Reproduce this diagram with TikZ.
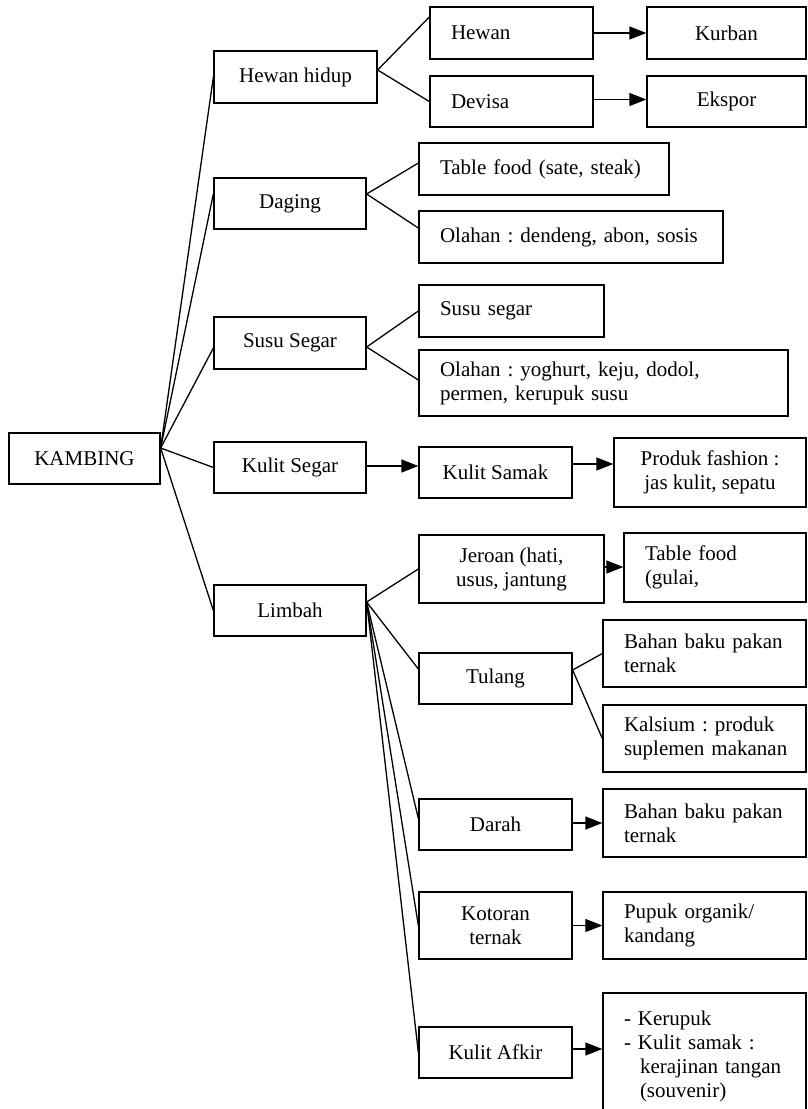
\documentclass[tikz,border=0pt]{standalone}
\usepackage{fontspec}
\setmainfont{Liberation Serif}
\usetikzlibrary{arrows.meta}
\frenchspacing
\begin{document}
\begin{tikzpicture}[x=1pt,y=-1pt,
  bx/.style={draw, line width=1.3pt, rectangle, inner ysep=2pt, font=\fontsize{21}{24}\selectfont},
  cbx/.style={bx, align=center, inner xsep=4pt},
  lbx/.style={bx, align=left, inner xsep=21pt},
  ln/.style={line width=1.3pt},
  ar/.style={line width=1.3pt, -{Triangle[length=17pt,width=13pt]}}]
\useasboundingbox (0,0) rectangle (807,1109);
% level 0
\node[cbx, minimum width=151pt, minimum height=51pt] (kambing) at (84.5,458.5) {KAMBING};
% level 1
\node[cbx, minimum width=163pt, minimum height=52pt] (hh) at (295.5,77) {Hewan hidup};
\node[cbx, minimum width=152pt, minimum height=51pt] (daging) at (290,203.5) {Daging};
\node[cbx, minimum width=152pt, minimum height=52pt] (susu) at (290,343) {Susu Segar};
\node[cbx, minimum width=152pt, minimum height=51pt] (kulits) at (290,467.5) {Kulit Segar};
\node[cbx, minimum width=152pt, minimum height=51pt] (limbah) at (290,610.5) {Limbah};
% hewan hidup
\node[lbx, text width=121pt, minimum height=52pt] (hewan) at (511.5,33) {Hewan};
\node[lbx, text width=121pt, minimum height=51pt] (devisa) at (511.5,101.5) {Devisa};
\node[cbx, minimum width=159pt, minimum height=52pt] (kurban) at (726.5,33) {Kurban};
\node[cbx, minimum width=159pt, minimum height=51pt] (ekspor) at (726.5,101.5) {Ekspor};
% daging
\node[lbx, text width=208pt, minimum height=52pt] (tf1) at (544,169) {Table food (sate, steak)};
\node[lbx, text width=262pt, minimum height=52pt] (ol1) at (571,237) {Olahan : dendeng, abon, sosis};
% susu
\node[lbx, text width=143pt, minimum height=52pt] (ss) at (511.5,311) {Susu segar};
\node[lbx, text width=327pt, minimum height=66pt] (ol2) at (603.5,383) {\mbox{Olahan : yoghurt, keju, dodol,}\\\mbox{permen, kerupuk susu}};
% kulit
\node[cbx, minimum width=153pt, minimum height=51pt] (samak) at (495.5,472.5) {Kulit Samak};
\node[cbx, minimum width=192pt, minimum height=69pt] (fashion) at (710,472.5) {Produk fashion :\\jas kulit, sepatu};
% limbah
\node[cbx, minimum width=185pt, minimum height=68pt] (jeroan) at (511.5,569) {Jeroan (hati,\\usus, jantung};
\node[lbx, text width=140pt, minimum height=69pt] (tf2) at (715,567.5) {\mbox{Table food}\\\mbox{(gulai,}};
\node[cbx, minimum width=153pt, minimum height=51pt] (tulang) at (495.5,678.5) {Tulang};
\node[lbx, text width=161pt, minimum height=67pt] (bb1) at (704.5,653.5) {\mbox{Bahan baku pakan}\\\mbox{ternak}};
\node[lbx, text width=161pt, minimum height=67pt] (kals) at (704.5,738.5) {\mbox{Kalsium : produk}\\\mbox{suplemen makanan}};
\node[cbx, minimum width=153pt, minimum height=51pt] (darah) at (495.5,824.5) {Darah};
\node[lbx, text width=161pt, minimum height=68pt] (bb2) at (704.5,823) {\mbox{Bahan baku pakan}\\\mbox{ternak}};
\node[cbx, minimum width=153pt, minimum height=67pt] (kotoran) at (495.5,925.5) {Kotoran\\ternak};
\node[lbx, text width=161pt, minimum height=67pt] (pupuk) at (704.5,925.5) {\mbox{Pupuk organik/}\\\mbox{kandang}};
\node[cbx, minimum width=153pt, minimum height=51pt] (afkir) at (495.5,1052.5) {Kulit Afkir};
\node[lbx, text width=161pt, minimum height=127pt] (big) at (704.5,1056.5) {\mbox{- Kerupuk}\\\mbox{- Kulit samak :}\\\mbox{\hspace*{16pt}kerajinan tangan}\\\mbox{\hspace*{16pt}(souvenir)}};
% fan origins
\coordinate (ko) at ([yshift=10.5pt]kambing.east);
\coordinate (hho) at ([yshift=7pt]hh.east);
\coordinate (dgo) at ([yshift=9.5pt]daging.east);
\coordinate (suo) at ([yshift=-4pt]susu.east);
\coordinate (lbo) at ([yshift=8.5pt]limbah.east);
\coordinate (tlo) at ([yshift=8.5pt]tulang.east);
% connectors
\draw[ln] (ko) -- (hh.west);
\draw[ln] (ko) -- ([yshift=9.5pt]daging.west);
\draw[ln] (ko) -- ([yshift=-5pt]susu.west);
\draw[ln] (ko) -- (kulits.west);
\draw[ln] (ko) -- (limbah.west);
\draw[ln] (hho) -- ([yshift=16pt]hewan.west);
\draw[ln] (hho) -- (devisa.west);
\draw[ar] (hewan.east) -- (kurban.west);
\draw[ar] ([yshift=2pt]devisa.east) -- ([yshift=2pt]ekspor.west);
\draw[ln] (dgo) -- ([yshift=6pt]tf1.west);
\draw[ln] (dgo) -- ([yshift=9pt]ol1.west);
\draw[ln] (suo) -- (ss.west);
\draw[ln] (suo) -- ([yshift=3pt]ol2.west);
\draw[ar] ([yshift=1.5pt]kulits.east) -- ([yshift=1.5pt]kulits.east -| samak.west);
\draw[ar] ([yshift=8.5pt]samak.east) -- ([yshift=8.5pt]samak.east -| fashion.west);
\draw[ln] (lbo) -- (jeroan.west);
\draw[ln] (lbo) -- ([yshift=9.5pt]tulang.west);
\draw[ln] (lbo) -- ([yshift=6pt]darah.west);
\draw[ln] (lbo) -- (kotoran.west);
\draw[ln] (lbo) -- (afkir.west);
\draw[ar] ([yshift=2pt]jeroan.east) -- ([yshift=2pt]jeroan.east -| tf2.west);
\draw[ln] (tlo) -- (bb1.west);
\draw[ln] (tlo) -- (kals.west);
\draw[ar] ([yshift=1.5pt]darah.east) -- ([yshift=1.5pt]darah.east -| bb2.west);
\draw[ar] (kotoran.east) -- (pupuk.west);
\draw[ar] ([yshift=3.5pt]afkir.east) -- ([yshift=3.5pt]afkir.east -| big.west);
\end{tikzpicture}
\end{document}
